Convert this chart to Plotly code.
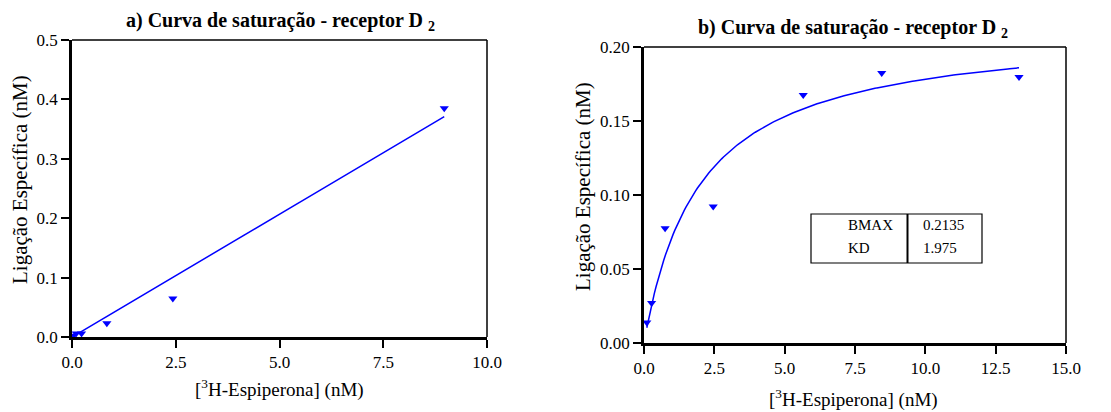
import numpy as np
import plotly.graph_objects as go

# ---- data ----
a_x = [0.03, 0.10, 0.23, 0.84, 2.43, 8.97]
a_y = [0.002, 0.006, 0.006, 0.023, 0.065, 0.385]
a_fit_slope = 0.0414
a_fit_intercept = -0.0002

b_x = [0.10, 0.27, 0.75, 2.46, 5.66, 8.45, 13.33]
b_y = [0.0139, 0.027, 0.0775, 0.0923, 0.1676, 0.1824, 0.1797]
BMAX = 0.2135
KD = 1.975

a_xticks = [0.0, 2.5, 5.0, 7.5, 10.0]
a_yticks = [0.0, 0.1, 0.2, 0.3, 0.4, 0.5]
b_xticks = [0.0, 2.5, 5.0, 7.5, 10.0, 12.5, 15.0]
b_yticks = [0.00, 0.05, 0.10, 0.15, 0.20]

BLUE = "#0000ff"
FONT = "Liberation Serif"

W, H = 1111, 412
def px(x):
    return x / W
def py(y):
    return 1 - y / H

# plot areas (pixels)
A = dict(l=72, r=487, t=40, b=337)
B = dict(l=644, r=1066, t=47, b=343)

fig = go.Figure()

# panel a
fa_x = np.linspace(min(a_x), max(a_x), 50)
fig.add_trace(go.Scatter(x=fa_x, y=a_fit_intercept + a_fit_slope * fa_x, mode="lines",
                         line=dict(color=BLUE, width=1.5), xaxis="x", yaxis="y", showlegend=False))
fig.add_trace(go.Scatter(x=a_x, y=a_y, mode="markers",
                         marker=dict(symbol="triangle-down", size=8, color=BLUE),
                         xaxis="x", yaxis="y", showlegend=False))
# panel b
fb_x = np.linspace(min(b_x), max(b_x), 200)
fig.add_trace(go.Scatter(x=fb_x, y=BMAX * fb_x / (KD + fb_x), mode="lines",
                         line=dict(color=BLUE, width=1.5), xaxis="x2", yaxis="y2", showlegend=False))
fig.add_trace(go.Scatter(x=b_x, y=b_y, mode="markers",
                         marker=dict(symbol="triangle-down", size=8, color=BLUE),
                         xaxis="x2", yaxis="y2", showlegend=False))

common = dict(showline=True, linecolor="black", linewidth=2.5, ticks="outside", ticklen=8,
              tickwidth=2, tickcolor="black", showgrid=False, zeroline=False,
              automargin=False)

fig.update_layout(
    width=W, height=H, margin=dict(l=0, r=0, t=0, b=0, autoexpand=False),
    paper_bgcolor="white", plot_bgcolor="white",
    font=dict(family=FONT, size=17, color="black"),
    xaxis=dict(domain=[px(A["l"]), px(A["r"])], range=[0, 10], tickvals=a_xticks,
               tickformat=".1f", anchor="y", **common),
    yaxis=dict(domain=[py(A["b"]), py(A["t"])], range=[0, 0.5], tickvals=a_yticks,
               tickformat=".1f", anchor="x", **common),
    xaxis2=dict(domain=[px(B["l"]), px(B["r"])], range=[0, 15], tickvals=b_xticks,
                tickformat=".1f", anchor="y2", **common),
    yaxis2=dict(domain=[py(B["b"]), py(B["t"])], range=[0, 0.2], tickvals=b_yticks,
                tickformat=".2f", anchor="x2", **common),
)
fig.update_xaxes(tickfont=dict(family=FONT, size=17, color="black"))
fig.update_yaxes(tickfont=dict(family=FONT, size=17, color="black"))

shapes = []
# top/right frame lines
for P in (A, B):
    shapes.append(dict(type="line", xref="paper", yref="paper", x0=px(P["l"]), x1=px(P["r"]),
                       y0=py(P["t"]), y1=py(P["t"]), line=dict(color="black", width=1.5)))
    shapes.append(dict(type="line", xref="paper", yref="paper", x0=px(P["r"]), x1=px(P["r"]),
                       y0=py(P["t"]), y1=py(P["b"]), line=dict(color="black", width=1.5)))
# parameter table
shapes.append(dict(type="rect", xref="paper", yref="paper", x0=px(811), x1=px(982),
                   y0=py(263), y1=py(214), line=dict(color="black", width=1.2)))
shapes.append(dict(type="line", xref="paper", yref="paper", x0=px(907.5), x1=px(907.5),
                   y0=py(263), y1=py(214), line=dict(color="black", width=2)))
fig.update_layout(shapes=shapes)

def note(text, x, y, size, xanchor="center", angle=0):
    return dict(text=text, x=px(x), y=py(y), xref="paper", yref="paper", showarrow=False,
                xanchor=xanchor, yanchor="middle", textangle=angle,
                font=dict(family=FONT, size=size, color="black"))

ann = [
    note("<b>a) Curva de saturação - receptor D <sub>2</sub></b>", 280, 22, 20),
    note("<b>b) Curva de saturação - receptor D <sub>2</sub></b>", 853, 29, 20),
    note("Ligação Específica (nM)", 20, 180, 21, angle=-90),
    note("Ligação Específica (nM)", 583, 187, 21, angle=-90),
    note("[<sup>3</sup>H-Espiperona] (nM)", 279, 388, 19),
    note("[<sup>3</sup>H-Espiperona] (nM)", 853, 398, 19),
    note("BMAX", 846, 225, 15, xanchor="left"),
    note("KD", 846, 248, 15, xanchor="left"),
    note(f"{BMAX:.4f}", 921, 225, 15, xanchor="left"),
    note(f"{KD:.3f}", 921, 248, 15, xanchor="left"),
]
fig.update_layout(annotations=ann)

fig.write_html("out.html")
